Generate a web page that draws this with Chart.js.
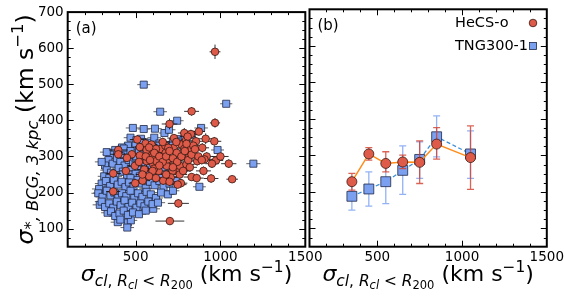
<!DOCTYPE html>
<html>
<head>
<meta charset="utf-8">
<script src="https://cdn.jsdelivr.net/npm/chart.js@4.4.1/dist/chart.umd.min.js"></script>
<style>
html,body{margin:0;padding:0;background:#fff;overflow:hidden;width:564px;height:301px;}
canvas{position:absolute;left:0;top:0;}
</style>
</head>
<body>
<canvas id="ca" width="564" height="301"></canvas>
<canvas id="cb" width="620" height="301"></canvas>
<script>
// ---------- DATA ----------
// Panel (a): individual clusters [sigma_cl, sigma_BCG, xerr, yerr]
const hecsPoints = [
 [968,590,32,20],[830,425,44,12],[968,393,30,13],[700,390,46,15],[787,365,38,14],
 [826,362,52,12],[873,369,36,11],[964,342,41,12],[913,349,47,15],[726,351,39,10],
 [510,347,44,12],[559,336,41,13],[594,333,35,10],[787,337,48,12],[771,333,42,11],
 [856,342,53,12],[893,324,40,13],[398,318,55,12],[398,306,47,10],[650,321,38,12],
 [675,330,36,11],[724,324,46,12],[742,310,41,10],[816,318,52,13],[840,330,44,12],
 [919,300,39,12],[906,292,47,11],[974,289,42,10],[1049,280,45,12],[1069,237,34,10],
 [945,239,43,12],[830,243,47,10],[767,226,38,12],[748,222,52,10],[752,170,62,12],
 [702,121,85,10],[368,203,42,12],[368,253,46,13],[498,226,39,12],[541,233,44,10],
 [525,303,41,12],[496,274,48,12],[443,260,38,10],[551,264,43,12],[565,287,41,13],
 [604,278,46,10],[636,260,39,12],[663,233,47,12],[655,296,42,10],[683,274,44,12],
 [689,292,38,12],[730,281,46,13],[738,272,41,10],[757,260,49,12],[761,274,40,12],
 [718,260,45,10],[707,242,37,12],[800,278,47,12],[812,296,42,11],[863,287,44,12],
 [594,310,40,10],[598,298,46,12],[620,321,38,12],[622,287,47,12],[608,266,41,10],
 [525,326,44,12],[565,318,39,12],[478,306,48,12],[449,296,41,10],[677,310,46,12],
 [693,324,40,13],[787,321,43,12],[797,345,38,10],[807,355,47,12],[560,300,42,12],
 [585,290,45,10],[610,310,39,12],[640,300,46,12],[660,285,41,10],[680,300,44,12],
 [700,315,38,12],[720,295,47,10],[745,285,42,12],[770,300,45,13],[790,315,40,10],
 [810,290,48,12],[830,305,41,12],[850,320,46,12],[870,300,39,10],[890,290,47,12],
 [720,270,42,12],[760,250,44,10],[680,250,38,12],[640,275,46,12],[600,260,41,10],
 [580,245,45,12],[700,230,39,12],[780,260,47,10],[820,270,42,12],[900,260,44,12],
 [950,280,40,12],[1000,300,48,10],[860,240,41,12],[620,240,46,12],[540,250,39,10],
 [520,285,45,12],[800,335,41,12],[740,340,47,10],[660,340,40,12],[580,325,44,12]
];
const tngPoints = [
 [548,499,38,8],[1034,446,36,8],[645,424,40,8],[745,399,38,8],[484,379,42,8],
 [548,376,36,8],[614,377,40,8],[670,365,34,8],[886,379,40,8],[697,374,38,8],
 [532,349,42,8],[983,318,38,8],[1194,280,42,8],[876,216,38,8],[604,155,40,8],
 [454,117,36,8],[395,118,42,8],[472,123,38,8],[451,103,40,8],[289,199,38,8],
 [289,166,42,8],[335,144,38,8],
 [470,352,40,8],[505,345,36,8],[540,340,42,8],[585,338,38,8],[610,352,40,8],
 [640,336,36,8],[455,330,42,8],[420,325,44,8],[500,330,38,8],[560,327,40,8],
 [690,332,36,8],[720,340,40,8],[760,348,38,8],[790,355,42,8],[830,360,38,8],
 [380,318,46,8],[400,310,40,8],[430,322,38,8],[445,305,42,8],[470,315,36,8],
 [490,300,40,8],[520,318,38,8],[545,305,42,8],[575,312,36,8],[600,300,40,8],
 [630,320,38,8],[660,308,42,8],[350,305,44,8],[330,312,40,8],[415,300,38,8],
 [340,290,42,8],[365,280,38,8],[390,295,40,8],[410,285,36,8],[435,275,42,8],
 [460,290,38,8],[485,280,40,8],[510,270,36,8],[530,292,42,8],[555,283,38,8],
 [585,275,40,8],[615,290,36,8],[650,280,42,8],[700,268,38,8],[740,290,40,8],
 [790,270,38,8],[320,275,42,8],[300,285,40,8],
 [330,262,38,8],[355,255,42,8],[380,245,40,8],[400,268,36,8],[425,258,42,8],
 [450,248,38,8],[475,262,40,8],[500,252,36,8],[525,245,42,8],[555,262,38,8],
 [580,250,40,8],[610,258,36,8],[640,245,42,8],[670,262,38,8],[700,240,40,8],
 [315,245,38,8],[345,240,42,8],[470,240,40,8],
 [300,225,40,8],[325,232,36,8],[350,218,42,8],[372,235,38,8],[395,222,40,8],
 [418,230,36,8],[440,215,42,8],[462,228,38,8],[488,218,40,8],[512,235,36,8],
 [535,225,42,8],[560,212,38,8],[585,230,40,8],[612,220,36,8],[640,232,42,8],
 [665,215,38,8],[700,225,40,8],[740,235,38,8],[285,210,42,8],
 [280,198,40,8],[305,188,36,8],[330,205,42,8],[352,192,38,8],[375,200,40,8],
 [398,185,36,8],[420,198,42,8],[445,190,38,8],[470,205,40,8],[492,185,36,8],
 [515,198,42,8],[540,188,38,8],[565,202,40,8],[590,195,36,8],[620,185,42,8],
 [650,200,38,8],[690,195,40,8],[720,205,38,8],
 [300,175,40,8],[320,160,36,8],[345,170,42,8],[368,158,38,8],[390,175,40,8],
 [412,165,36,8],[435,178,42,8],[458,160,38,8],[480,172,40,8],[505,158,36,8],
 [528,170,42,8],[552,162,38,8],[575,175,40,8],[600,168,36,8],[632,172,42,8],
 [355,148,40,8],[380,135,38,8],[405,142,42,8],[430,150,36,8],[455,138,40,8],
 [485,145,38,8],[520,140,42,8],[560,150,36,8],[410,125,40,8]
];
// Panel (b): binned values
const binX = [350, 450, 550, 650, 750, 850, 1050];
const hecsMean = [228, 304, 278, 282, 281, 331, 294];
const hecsUpper = [251, 321, 310, 301, 340, 376, 381];
const hecsLower = [205, 287, 255, 264, 223, 290, 207];
const tngMean = [188, 208, 228, 259, 289, 351, 304];
const tngUpper = [232, 255, 269, 326, 337, 408, 367];
const tngLower = [150, 161, 168, 193, 237, 296, 237];
// Axes
const xTickLabels = [500, 1000, 1500];
const yTickLabels = [100, 200, 300, 400, 500, 600, 700];
const xMinorTicks = [200, 300, 400, 600, 700, 800, 900, 1100, 1200, 1300, 1400];
const yMinorTicks = [75,125,150,175,225,250,275,325,350,375,425,450,475,525,550,575,625,650,675];
const legendLabels = ['HeCS-o', 'TNG300-1'];

// ---------- STYLE ----------
const FONT = '"DejaVu Sans", Verdana, sans-serif';
const RED = '#de5b49', RED_EDGE = '#3a1812';
const BLUE = '#7ca0f0', BLUE_EDGE = '#1f2a48';

function frameTicks(chart) {
  const {ctx, chartArea: a, scales: {x, y}} = chart;
  ctx.save();
  ctx.strokeStyle = '#000';
  ctx.lineWidth = 1;
  ctx.beginPath();
  const xt = xTickLabels.map(v => [v, 6]).concat(xMinorTicks.map(v => [v, 3]));
  for (const [v, L] of xt) {
    const p = Math.round(x.getPixelForValue(v)) + 0.5;
    if (p < a.left + 1 || p > a.right - 1) continue;
    ctx.moveTo(p, a.bottom); ctx.lineTo(p, a.bottom - L);
    ctx.moveTo(p, a.top); ctx.lineTo(p, a.top + L);
  }
  const yt = yTickLabels.map(v => [v, 6]).concat(yMinorTicks.map(v => [v, 3]));
  for (const [v, L] of yt) {
    const p = Math.round(y.getPixelForValue(v)) + 0.5;
    if (p < a.top + 1 || p > a.bottom - 1) continue;
    ctx.moveTo(a.left, p); ctx.lineTo(a.left + L, p);
    ctx.moveTo(a.right, p); ctx.lineTo(a.right - L, p);
  }
  ctx.stroke();
  ctx.lineWidth = 2;
  ctx.strokeRect(a.left, a.top, a.right - a.left, a.bottom - a.top);
  ctx.restore();
}

function drawRich(ctx, parts, cx, baseline, rotate) {
  ctx.save();
  ctx.translate(cx, baseline);
  if (rotate) ctx.rotate(-Math.PI / 2);
  let total = 0;
  const widths = parts.map(p => {
    ctx.font = (p.i ? 'italic ' : '') + p.s + 'px ' + FONT;
    const w = ctx.measureText(p.t).width;
    total += w;
    return w;
  });
  let xPos = -total / 2;
  ctx.fillStyle = '#000';
  ctx.textBaseline = 'alphabetic';
  ctx.textAlign = 'left';
  parts.forEach((p, k) => {
    ctx.font = (p.i ? 'italic ' : '') + p.s + 'px ' + FONT;
    ctx.fillText(p.t, xPos, p.dy || 0);
    xPos += widths[k];
  });
  ctx.restore();
}

const M = 22, S = 15.4, SS = 11.5;
const YM = 23.5, YS = 16.4;
const xTitle = [
  {t: 'σ', s: M, i: true},
  {t: 'cl', s: S, i: true, dy: 5},
  {t: ', ', s: S, dy: 5},
  {t: 'R', s: S, i: true, dy: 5},
  {t: 'cl', s: SS, i: true, dy: 8},
  {t: ' < ', s: S, dy: 5},
  {t: 'R', s: S, i: true, dy: 5},
  {t: '200', s: SS, dy: 8},
  {t: ' (km s', s: M},
  {t: '−1', s: S, dy: -9},
  {t: ')', s: M}
];
const yTitle = [
  {t: 'σ', s: YM, i: true},
  {t: '*', s: YS, i: true, dy: 3},
  {t: ', BCG, 3 kpc', s: YS, i: true, dy: 5},
  {t: ' (km s', s: YM},
  {t: '−1', s: YS, dy: -10},
  {t: ')', s: YM}
];

function errPlugin(specs) {
  return {
    id: 'errbars',
    beforeDatasetDraw(chart, args) {
      const spec = specs[args.index];
      if (!spec) return;
      const {ctx, scales: {x, y}} = chart;
      ctx.save();
      ctx.strokeStyle = spec.color;
      ctx.globalAlpha = spec.alpha;
      ctx.lineWidth = spec.lw;
      ctx.beginPath();
      for (const b of spec.bars()) {
        const px = x.getPixelForValue(b.x), py = y.getPixelForValue(b.y);
        if (b.x0 !== undefined) {
          ctx.moveTo(x.getPixelForValue(b.x0), py); ctx.lineTo(x.getPixelForValue(b.x1), py);
        }
        const y0 = y.getPixelForValue(b.y0), y1 = y.getPixelForValue(b.y1);
        ctx.moveTo(px, y0); ctx.lineTo(px, y1);
        if (spec.cap) {
          ctx.moveTo(px - spec.cap, y0); ctx.lineTo(px + spec.cap, y0);
          ctx.moveTo(px - spec.cap, y1); ctx.lineTo(px + spec.cap, y1);
        }
      }
      ctx.stroke();
      ctx.restore();
    }
  };
}

const tickFont = {family: FONT, size: 13.5};
const plainLabel = v => String(v);

// ---------- PANEL (a) ----------
new Chart(document.getElementById('ca'), {
  type: 'scatter',
  data: {
    datasets: [
      {label: 'HeCS-o', data: hecsPoints.map(p => ({x: p[0], y: p[1]})),
       pointStyle: 'circle', pointRadius: 3.8, backgroundColor: RED, borderColor: RED_EDGE, borderWidth: 0.8},
      {label: 'TNG300-1', data: tngPoints.map(p => ({x: p[0], y: p[1]})),
       pointStyle: 'rect', pointRadius: 5, backgroundColor: BLUE, borderColor: BLUE_EDGE, borderWidth: 0.8}
    ]
  },
  options: {
    responsive: false, animation: false, devicePixelRatio: 1,
    layout: {padding: {top: 9.3, right: 564 - 305.3, bottom: 0, left: 0}},
    plugins: {legend: {display: false}, tooltip: {enabled: false}},
    scales: {
      x: {type: 'linear', min: 100, max: 1500,
          afterBuildTicks: s => { s.ticks = xTickLabels.map(v => ({value: v})); },
          afterFit: s => { s.height = 54.3; },
          grid: {display: false, drawTicks: false}, border: {display: false},
          ticks: {font: tickFont, color: '#000', padding: 3, maxRotation: 0, callback: plainLabel}},
      y: {type: 'linear', min: 50, max: 700,
          afterBuildTicks: s => { s.ticks = yTickLabels.map(v => ({value: v})); },
          afterFit: s => { s.width = 67.7; },
          grid: {display: false, drawTicks: false}, border: {display: false},
          ticks: {font: tickFont, color: '#000', padding: 4, callback: plainLabel}}
    }
  },
  plugins: [
    errPlugin([
      {color: '#111', alpha: 0.85, lw: 1, cap: 0,
       bars: () => hecsPoints.map(p => ({x: p[0], y: p[1], x0: p[0] - p[2], x1: p[0] + p[2], y0: p[1] - p[3], y1: p[1] + p[3]}))},
      {color: '#333', alpha: 0.75, lw: 1, cap: 0,
       bars: () => tngPoints.map(p => ({x: p[0], y: p[1], x0: p[0] - p[2], x1: p[0] + p[2], y0: p[1] - p[3], y1: p[1] + p[3]}))}
    ]),
    {id: 'deco', afterDraw(chart) {
      frameTicks(chart);
      const {ctx, chartArea: a} = chart;
      ctx.save();
      ctx.font = '15px ' + FONT; ctx.fillStyle = '#000'; ctx.textBaseline = 'middle';
      ctx.fillText('(a)', a.left + 8, a.top + 17);
      ctx.restore();
      drawRich(ctx, xTitle, (a.left + a.right) / 2, 281, false);
      drawRich(ctx, yTitle, 33, (a.top + a.bottom) / 2, true);
    }}
  ]
});

// ---------- PANEL (b) ----------
new Chart(document.getElementById('cb'), {
  type: 'scatter',
  data: {
    datasets: [
      {label: 'HeCS-o', data: binX.map((v, k) => ({x: v, y: hecsMean[k]})), showLine: true,
       borderColor: '#ff8c1a', borderWidth: 1.5,
       pointStyle: 'circle', pointRadius: 5, pointBackgroundColor: RED, pointBorderColor: RED_EDGE, pointBorderWidth: 0.8},
      {label: 'TNG300-1', data: binX.map((v, k) => ({x: v, y: tngMean[k]})), showLine: true,
       borderColor: '#3c8fd4', borderWidth: 1.3, borderDash: [4, 2.5],
       pointStyle: 'rect', pointRadius: 7, pointBackgroundColor: BLUE, pointBorderColor: BLUE_EDGE, pointBorderWidth: 0.8}
    ]
  },
  options: {
    responsive: false, animation: false, devicePixelRatio: 1,
    layout: {padding: {top: 9.3, right: 620 - 546.8, bottom: 0, left: 309.5}},
    plugins: {legend: {display: false}, tooltip: {enabled: false}},
    scales: {
      x: {type: 'linear', min: 100, max: 1500,
          afterBuildTicks: s => { s.ticks = xTickLabels.map(v => ({value: v})); },
          afterFit: s => { s.height = 54.3; },
          grid: {display: false, drawTicks: false}, border: {display: false},
          ticks: {font: tickFont, color: '#000', padding: 3, maxRotation: 0, callback: plainLabel}},
      y: {type: 'linear', min: 50, max: 700, display: false,
          afterBuildTicks: s => { s.ticks = yTickLabels.map(v => ({value: v})); }}
    }
  },
  plugins: [
    errPlugin([
      {color: '#d23c2c', alpha: 0.8, lw: 1.3, cap: 3.5,
       bars: () => binX.map((v, k) => ({x: v, y: hecsMean[k], y0: hecsLower[k], y1: hecsUpper[k]}))},
      {color: '#6f98f0', alpha: 0.75, lw: 1.3, cap: 3.5,
       bars: () => binX.map((v, k) => ({x: v, y: tngMean[k], y0: tngLower[k], y1: tngUpper[k]}))}
    ]),
    {id: 'deco', afterDraw(chart) {
      frameTicks(chart);
      const {ctx, chartArea: a} = chart;
      ctx.save();
      ctx.font = '15px ' + FONT; ctx.fillStyle = '#000'; ctx.textBaseline = 'middle';
      ctx.fillText('(b)', a.left + 8, a.top + 17);
      ctx.font = '14.5px ' + FONT;
      ctx.fillText(legendLabels[0], 455, 23);
      ctx.fillText(legendLabels[1], 455, 46);
      // legend markers
      ctx.fillStyle = RED; ctx.strokeStyle = RED_EDGE; ctx.lineWidth = 0.8;
      ctx.beginPath(); ctx.arc(533, 23, 3.8, 0, Math.PI * 2); ctx.fill(); ctx.stroke();
      ctx.fillStyle = BLUE; ctx.strokeStyle = BLUE_EDGE;
      ctx.fillRect(529.5, 42.5, 7, 7); ctx.strokeRect(529.5, 42.5, 7, 7);
      ctx.restore();
      drawRich(ctx, xTitle, (a.left + a.right) / 2, 281, false);
    }}
  ]
});
</script>
</body>
</html>
